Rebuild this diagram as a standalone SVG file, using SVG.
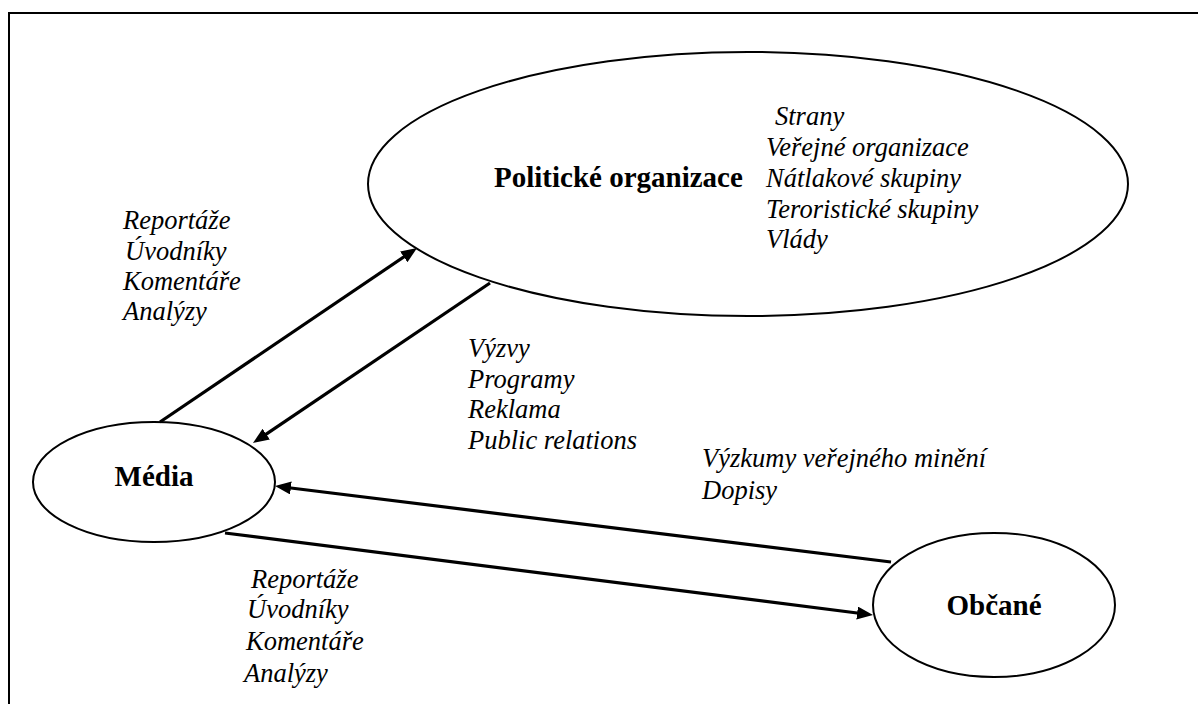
<svg xmlns="http://www.w3.org/2000/svg" width="1198" height="704" viewBox="0 0 1198 704">
<style>
.node{fill:#fff;stroke:#000;stroke-width:2}
.b{font-family:"Liberation Serif","Times New Roman",serif;font-weight:bold;font-size:29px;fill:#000}
.i{font-family:"Liberation Serif","Times New Roman",serif;font-style:italic;font-size:26.5px;fill:#000}
.c{stroke:#000;stroke-width:3.2;fill:none;marker-end:url(#ah)}
</style>
<defs>
<marker id="ah" markerUnits="userSpaceOnUse" markerWidth="18" markerHeight="14" refX="4" refY="6.5" orient="auto">
<path d="M0,0 L16,6.5 L0,13 z" fill="#000"/>
</marker>
</defs>
<rect x="0" y="0" width="1198" height="704" fill="#fff"/>
<rect x="9" y="13" width="1300" height="800" fill="none" stroke="#000" stroke-width="2"/>
<g id="politicke-organizace">
<ellipse class="node" cx="748" cy="184" rx="380" ry="132"/>
<text class="b" x="494" y="187">Politické organizace</text>
<text class="i" x="775" y="125">Strany</text>
<text class="i" x="766" y="156">Veřejné organizace</text>
<text class="i" x="766" y="187">Nátlakové skupiny</text>
<text class="i" x="766" y="218">Teroristické skupiny</text>
<text class="i" x="766" y="248">Vlády</text>
</g>
<g id="media">
<ellipse class="node" cx="154" cy="482" rx="121" ry="60"/>
<text class="b" x="154" y="486" text-anchor="middle">Média</text>
</g>
<g id="obcane">
<ellipse class="node" cx="994" cy="605" rx="121" ry="72"/>
<text class="b" x="994" y="615" text-anchor="middle">Občané</text>
</g>
<g id="connectors">
<path class="c" d="M160,422 L407.1,254.7"/>
<path class="c" d="M490,283 L262.9,436.3"/>
<path class="c" d="M891,562 L286.9,487.5"/>
<path class="c" d="M225,533 L861.1,613.5"/>
</g>
<g id="labels">
<text class="i" x="123" y="229">Reportáže</text>
<text class="i" x="125" y="260">Úvodníky</text>
<text class="i" x="123" y="290">Komentáře</text>
<text class="i" x="123" y="320">Analýzy</text>
<text class="i" x="468" y="357">Výzvy</text>
<text class="i" x="468" y="388">Programy</text>
<text class="i" x="468" y="418">Reklama</text>
<text class="i" x="468" y="449">Public relations</text>
<text class="i" x="702" y="467">Výzkumy veřejného minění</text>
<text class="i" x="702" y="499">Dopisy</text>
<text class="i" x="251" y="588">Reportáže</text>
<text class="i" x="247" y="618">Úvodníky</text>
<text class="i" x="246" y="650">Komentáře</text>
<text class="i" x="244" y="682">Analýzy</text>
</g>
</svg>
